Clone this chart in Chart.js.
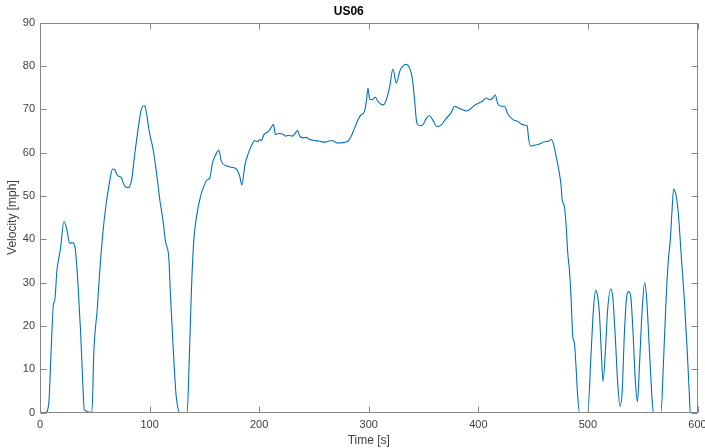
<!DOCTYPE html>
<html>
<head>
<meta charset="utf-8">
<script src="https://cdn.jsdelivr.net/npm/chart.js@4/dist/chart.umd.min.js"></script>
<style>
  html, body { margin: 0; padding: 0; background: #fff; }
  #wrap { width: 705px; height: 448px; }
</style>
</head>
<body>
<div id="wrap"><canvas id="c" width="705" height="448"></canvas></div>
<script>
const chartTitle = 'US06';
const xLabel = 'Time [s]';
const yLabel = 'Velocity [mph]';
const xTicks = [0, 100, 200, 300, 400, 500, 600];
const yTicks = [0, 10, 20, 30, 40, 50, 60, 70, 80, 90];

const timeS = [
  0, 5, 7.9, 10.3, 12.5, 13.2, 15.5, 18.5, 21.9, 24.3, 27, 29.8, 31.9, 34.6, 37.1, 39.2, 40.4,
  47.4, 49.2, 52.2, 54.4, 57.4, 60, 62.3, 64, 66.2, 68.4, 70, 71.4, 74.4, 76, 77.5, 80.5, 82, 83.6,
  86.6, 89.6, 92.7, 95.1, 96, 97.2, 99.7, 103.3, 106.4, 109.4, 112.4, 114.5, 117.6, 119.1, 121.5, 124, 125.5,
  127.6, 134.3, 136.1, 138.3, 140.4, 142.8, 146.5, 149.5, 152.5, 155, 157.4, 160.4, 163.2, 165.6, 170.2,
  174.7, 179.3, 182.3, 184.2, 186.9, 189.9, 194.4,
  196, 198.4, 200.5, 202.1, 204.5, 208.1, 211.2, 213, 214.8, 217.9, 221.8, 224, 227, 230, 232.5, 234.9,
  237, 240, 243.1, 246.1, 250.7, 255.2, 259.8, 262.8, 266.5, 268.9, 271.9, 276.5, 281, 284.1, 287.1,
  291.7, 296.3, 297.8, 299.3, 300.8, 303.3, 306, 308.4, 313, 316.1, 319.1, 322.1, 325.2, 328.2, 331.2, 334.3,
  337.3, 339.7, 341.8, 343.9, 346.4, 349.4, 352.5, 355.5, 358.5, 362.2, 366.2, 370.7, 375.3,
  378.3, 382, 385.9, 389, 392, 396.5, 401.1, 404.1, 407.2, 410.2, 413.2, 415.4, 417.8, 420.9, 423.9,
  426.9, 431.5, 436, 439.1, 442.8, 444.6, 445.8, 447.6, 451.2, 455.8, 460.4, 464, 466.5, 468.6,
  471, 473.4, 475.6, 476.5, 478.6, 480.2, 481.6,
  483.1, 484.7, 486.2, 487.7, 489.3, 490.7, 492.3, 499.8, 502.9, 505, 507.1, 508.9, 510.5, 512, 513.8,
  516, 518, 520.8, 522.6, 524.8, 527.2, 529.3, 531.2, 533.3, 535.4, 537.2, 539.1, 540.9, 543.4, 545.2,
  547, 549.5, 551.8, 553.7, 556.1, 558.6, 559.7, 566.7, 568.8, 571.3, 573.4, 575.2, 576.8, 578.2, 580.4,
  582.5, 585, 588, 590.4, 592.5, 593.4, 600
];

const velocityMph = [
  0, 0, 1.8, 15.2, 25.4, 25.5, 32.9, 37.5, 44.1, 42.5, 39.1, 39.2, 38.3, 29.9, 18.3, 6, 0.6,
  0, 14.5, 23.7, 32.2, 41.5, 47.5, 51.4, 54, 56.2, 56, 55, 54.6, 54.2, 53, 52.2, 51.9, 52.3, 53.7,
  59.9, 65.6, 70.2, 70.8, 70.6, 69.1, 64.9, 60.6, 55.2, 49, 44, 39.5, 35.5, 26.8, 15.2, 4.5, 1.5,
  0, 0, 11.4, 29.1, 39.9, 45.2, 49.9, 52.2, 53.7, 54.1, 57.6, 59.5, 60.5, 57.9, 56.9,
  56.6, 56.2, 54.5, 52.5, 57, 59.7, 62.3,
  62.8, 62.5, 63, 62.8, 64.2, 64.8, 65.9, 66.5, 64.2, 64.4, 64.2, 63.8, 64, 63.8, 64.3, 65.1,
  63.8, 63.4, 63.5, 63, 62.8, 62.6, 62.4, 62.6, 62.8, 62.5, 62.2, 62.3, 62.6, 63.8, 65.7,
  68.3, 69.7, 71.8, 74.9, 72.3, 72.2, 72.8, 71.8, 71, 72.2, 75.2, 79.3, 76, 78.7, 80, 80.4,
  79.5, 77.2, 72.2, 66.8, 66.2, 66.4, 67.9, 68.5, 67.5, 66, 66.4, 67.9, 69.2,
  70.7, 70.3, 69.9, 69.6, 69.9, 70.9, 71.5, 71.9, 72.6, 72.2, 72.6, 73.3, 71.2, 70.7, 70.7,
  68.9, 67.6, 67.2, 66.6, 66.3, 66.1, 63.4, 61.5, 61.7, 62, 62.5, 62.6, 63, 62,
  59.1, 56, 52.2, 49.1, 47.5, 42.9, 36.8,
  32.9, 26, 17.5, 16, 9.9, 3.7, 0, 0, 13.7, 23.7, 28.2, 26.8, 22.9, 15.2, 7.2,
  14.5, 23.7, 28.5, 26.8, 18.3, 6.8, 1.4, 4.5, 18.3, 26.8, 27.9, 26.8, 19.8, 6.8, 2.5,
  10.6, 23.7, 30, 26, 14.5, 2.9, 0, 0, 10.6, 26, 35.2, 39.9, 46.8, 51.6, 50.2,
  46, 36.8, 26, 15.2, 4.5, 0, 0
];

const points = timeS.map((t, i) => ({ x: t, y: velocityMph[i] }));

const FONT = '"Liberation Sans", Arial, Helvetica, sans-serif';
const AXIS_COLOR = '#868686';
const TEXT_COLOR = '#404040';

const boxPlugin = {
  id: 'matlabBox',
  afterDatasetsDraw(chart) {
    const { ctx, chartArea: a, scales: { x, y } } = chart;
    const L = Math.round(a.left) + 0.5, R = Math.round(a.right) - 0.5;
    const T = Math.round(a.top) + 0.5, B = Math.round(a.bottom) - 0.5;
    const len = 6;
    ctx.save();
    ctx.strokeStyle = AXIS_COLOR;
    ctx.lineWidth = 1;
    ctx.strokeRect(L, T, R - L, B - T);
    ctx.beginPath();
    x.ticks.forEach(t => {
      const px = Math.round(x.getPixelForValue(t.value)) + 0.5;
      ctx.moveTo(px, B); ctx.lineTo(px, B - len);
      ctx.moveTo(px, T); ctx.lineTo(px, T + len);
    });
    y.ticks.forEach(t => {
      const py = Math.round(y.getPixelForValue(t.value)) + 0.5;
      ctx.moveTo(L, py); ctx.lineTo(L + len, py);
      ctx.moveTo(R, py); ctx.lineTo(R - len, py);
    });
    ctx.stroke();
    ctx.restore();
  }
};

new Chart(document.getElementById('c'), {
  type: 'line',
  data: {
    datasets: [{
      data: points,
      borderColor: '#0072BD',
      borderWidth: 1.1,
      pointRadius: 0,
      fill: false,
      cubicInterpolationMode: 'monotone'
    }]
  },
  options: {
    responsive: false,
    animation: false,
    layout: { padding: { left: 0, right: 7.5, top: 0, bottom: 0 } },
    plugins: {
      legend: { display: false },
      tooltip: { enabled: false },
      title: {
        display: true,
        text: chartTitle,
        color: '#000',
        font: { family: FONT, size: 12, weight: 'bold', lineHeight: 1.2 },
        padding: { top: 4, bottom: 4.2 }
      }
    },
    scales: {
      x: {
        type: 'linear',
        min: xTicks[0],
        max: xTicks[xTicks.length - 1],
        afterBuildTicks: s => { s.ticks = xTicks.map(v => ({ value: v })); },
        afterFit: s => { s.height = 35.5; s.paddingLeft = 0; s.paddingRight = 0; },
        ticks: { color: TEXT_COLOR, font: { family: FONT, size: 11 }, padding: 6, maxRotation: 0 },
        grid: { display: false, drawTicks: false },
        border: { display: false },
        title: {
          display: true, text: xLabel, color: TEXT_COLOR,
          font: { family: FONT, size: 12 }, padding: { top: 0, bottom: 0 }
        }
      },
      y: {
        type: 'linear',
        min: yTicks[0],
        max: yTicks[yTicks.length - 1],
        afterBuildTicks: s => { s.ticks = yTicks.map(v => ({ value: v })); },
        afterFit: s => { s.width = 40; s.paddingTop = 0; s.paddingBottom = 0; },
        ticks: { color: TEXT_COLOR, font: { family: FONT, size: 11 }, padding: 5 },
        grid: { display: false, drawTicks: false },
        border: { display: false },
        title: {
          display: true, text: yLabel, color: TEXT_COLOR,
          font: { family: FONT, size: 12 }, padding: { top: 5, bottom: 0 }
        }
      }
    }
  },
  plugins: [boxPlugin]
});
</script>
</body>
</html>
